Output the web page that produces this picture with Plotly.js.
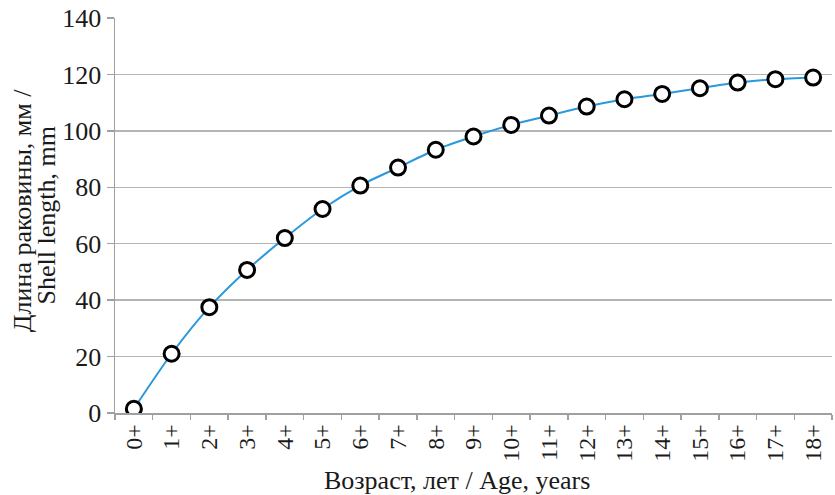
<!DOCTYPE html>
<html>
<head>
<meta charset="utf-8">
<script src="https://cdn.plot.ly/plotly-3.0.1.min.js"></script>
<style>html,body{margin:0;padding:0;background:#fff;}#chart{width:835px;height:495px;}</style>
</head>
<body>
<div id="chart"></div>
<script>
const ageLabels = ["0+","1+","2+","3+","4+","5+","6+","7+","8+","9+","10+","11+","12+","13+","14+","15+","16+","17+","18+"];
const shellLength = [1.5, 21, 37.5, 50.7, 62, 72.3, 80.6, 87.0, 93.3, 98.0, 102.1, 105.4, 108.6, 111.2, 113.1, 115.1, 117.1, 118.3, 118.9];
const yTicks = [0, 20, 40, 60, 80, 100, 120, 140];
const xTitle = "Возраст, лет / Age, years";
const yTitleLines = ["Длина раковины, мм /", "Shell length, mm"];

const serif = "Liberation Serif";
const txt = "#1a1a1a";

const trace = {
  x: ageLabels,
  y: shellLength,
  type: "scatter",
  mode: "lines+markers",
  line: {color: "#2a98dc", width: 2, shape: "spline", smoothing: 0.8},
  marker: {symbol: "circle", size: 15, color: "#ffffff", line: {color: "#000000", width: 3}},
  hoverinfo: "skip"
};

const layout = {
  width: 835, height: 495,
  margin: {l: 115, r: 3, t: 18, b: 82},
  paper_bgcolor: "#ffffff",
  plot_bgcolor: "#ffffff",
  showlegend: false,
  font: {family: serif, color: txt, size: 22},
  xaxis: {
    type: "category",
    range: [-0.5, 18.5],
    tickson: "boundaries",
    ticks: "outside", ticklen: 5, tickcolor: "#a0a0a0", tickwidth: 1.5,
    showgrid: false,
    showline: true, linecolor: "#a0a0a0", linewidth: 1.5,
    tickangle: -90,
    tickfont: {family: serif, size: 24, color: txt},
    zeroline: false
  },
  yaxis: {
    range: [0, 140],
    tickvals: yTicks,
    ticktext: yTicks.map(String),
    ticks: "outside", ticklen: 7, tickcolor: "#a0a0a0", tickwidth: 1.5,
    showgrid: true, gridcolor: "#b4b4b4", gridwidth: 1.5,
    showline: true, linecolor: "#a0a0a0", linewidth: 1.5,
    zeroline: false,
    tickfont: {family: serif, size: 26, color: txt}
  },
  annotations: [
    {text: xTitle, xref: "paper", yref: "paper", x: 0.477, y: 0, yshift: -67,
     xanchor: "center", yanchor: "middle", showarrow: false,
     font: {family: serif, size: 26, color: txt}},
    {text: yTitleLines[0], xref: "paper", yref: "paper", x: 0, xshift: -93, y: 0.511,
     xanchor: "center", yanchor: "middle", textangle: -90, showarrow: false,
     font: {family: serif, size: 26, color: txt}},
    {text: yTitleLines[1], xref: "paper", yref: "paper", x: 0, xshift: -69, y: 0.50,
     xanchor: "center", yanchor: "middle", textangle: -90, showarrow: false,
     font: {family: serif, size: 26, color: txt}}
  ]
};

Plotly.newPlot("chart", [trace], layout, {staticPlot: true, displayModeBar: false});
</script>
</body>
</html>
